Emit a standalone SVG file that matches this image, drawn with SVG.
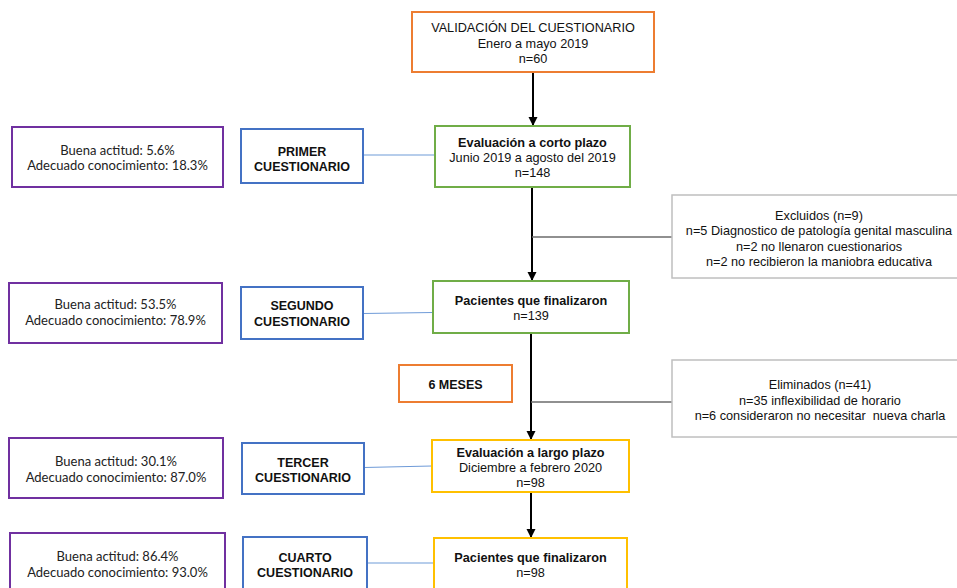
<svg xmlns="http://www.w3.org/2000/svg" width="957" height="588" viewBox="0 0 957 588">
<defs>
<marker id="ah" markerWidth="10" markerHeight="10" refX="9" refY="5" orient="auto" markerUnits="userSpaceOnUse">
<path d="M0,0.5 L9,5 L0,9.5 Z" fill="#000"/>
</marker>
<style>
.t{font-family:"Liberation Sans",Arial,sans-serif;font-size:12.7px;fill:#111;text-anchor:middle}
.b{font-weight:bold}
.c{font-family:Lato,"Open Sans",sans-serif;font-size:13px;fill:#222;text-anchor:middle}
.bl{font-family:"Liberation Sans",Arial,sans-serif;font-size:12.5px;font-weight:bold;fill:#111;text-anchor:middle}
.or{fill:#fff;stroke:#ED7D31;stroke-width:2}
.gr{fill:#fff;stroke:#70AD47;stroke-width:2}
.ye{fill:#fff;stroke:#FFC000;stroke-width:2}
.pu{fill:#fff;stroke:#7030A0;stroke-width:2}
.bu{fill:#fff;stroke:#4472C4;stroke-width:2}
.gy{fill:#fff;stroke:#BFBFBF;stroke-width:1.5}
.arr{stroke:#000;stroke-width:2;fill:none;marker-end:url(#ah)}
.gl{stroke:#6b6b6b;stroke-width:1.5;fill:none}
.bln{stroke:#6f9bd8;stroke-width:1.2;fill:none}
</style>
</defs>
<rect width="957" height="588" fill="#fff"/>
<g id="connectors">
<line class="arr" x1="533" y1="72" x2="533" y2="126"/>
<line class="arr" x1="532" y1="187" x2="532" y2="281"/>
<line class="arr" x1="531" y1="333" x2="531" y2="440"/>
<line class="arr" x1="531" y1="492" x2="531" y2="538"/>
<line class="gl" x1="532" y1="237" x2="672" y2="237"/>
<line class="gl" x1="531" y1="402" x2="672" y2="402"/>
<line class="bln" x1="363" y1="155" x2="435" y2="155"/>
<line class="bln" x1="363" y1="313.5" x2="433" y2="312.5"/>
<line class="bln" x1="364" y1="467.5" x2="432" y2="466"/>
<line class="bln" x1="367" y1="563" x2="434" y2="563"/>
</g>
<g id="validacion">
<rect class="or" x="412" y="12" width="242" height="60"/>
<text class="t" x="533" y="31.5">VALIDACIÓN DEL CUESTIONARIO</text>
<text class="t" x="533" y="47.5">Enero a mayo 2019</text>
<text class="t" x="533" y="63">n=60</text>
</g>
<g id="corto-plazo">
<rect class="gr" x="435" y="126" width="195" height="61"/>
<text class="t b" x="532.5" y="146.5">Evaluación a corto plazo</text>
<text class="t" x="532.5" y="161.5">Junio 2019 a agosto del 2019</text>
<text class="t" x="532.5" y="176.5">n=148</text>
</g>
<g id="finalizaron1">
<rect class="gr" x="433" y="281" width="196" height="52"/>
<text class="t b" x="531" y="304.5">Pacientes que finalizaron</text>
<text class="t" x="531" y="319.5">n=139</text>
</g>
<g id="largo-plazo">
<rect class="ye" x="432" y="440" width="197" height="52"/>
<text class="t b" x="530.5" y="456.5">Evaluación a largo plazo</text>
<text class="t" x="530.5" y="471.5">Diciembre a febrero 2020</text>
<text class="t" x="530.5" y="486.5">n=98</text>
</g>
<g id="finalizaron2">
<rect class="ye" x="434" y="538" width="193" height="62"/>
<text class="t b" x="530.5" y="561.5">Pacientes que finalizaron</text>
<text class="t" x="530.5" y="576.5">n=98</text>
</g>
<g id="excluidos">
<rect class="gy" x="672" y="195" width="290" height="83"/>
<text class="t" x="819" y="219.5">Excluidos (n=9)</text>
<text class="t" x="819" y="234.5">n=5 Diagnostico de patología genital masculina</text>
<text class="t" x="819" y="250.5">n=2 no llenaron cuestionarios</text>
<text class="t" x="819" y="265.5">n=2 no recibieron la maniobra educativa</text>
</g>
<g id="eliminados">
<rect class="gy" x="672" y="360" width="290" height="77"/>
<text class="t" x="820" y="388.5">Eliminados (n=41)</text>
<text class="t" x="820" y="404.5">n=35 inflexibilidad de horario</text>
<text class="t" x="820" y="419.5" xml:space="preserve">n=6 consideraron no necesitar  nueva charla</text>
</g>
<g id="seis-meses">
<rect class="or" x="399" y="365" width="113" height="37"/>
<text class="bl" x="455.5" y="388.5">6 MESES</text>
</g>
<g id="primer">
<rect class="bu" x="241" y="129" width="122" height="54"/>
<text class="bl" x="302" y="155.5">PRIMER</text>
<text class="bl" x="302" y="170.5">CUESTIONARIO</text>
</g>
<g id="segundo">
<rect class="bu" x="241" y="287" width="122" height="52"/>
<text class="bl" x="302" y="309.5">SEGUNDO</text>
<text class="bl" x="302" y="325.5">CUESTIONARIO</text>
</g>
<g id="tercer">
<rect class="bu" x="242" y="443" width="122" height="51"/>
<text class="bl" x="303" y="466.5">TERCER</text>
<text class="bl" x="303" y="481.5">CUESTIONARIO</text>
</g>
<g id="cuarto">
<rect class="bu" x="243" y="537" width="124" height="63"/>
<text class="bl" x="305" y="561.5">CUARTO</text>
<text class="bl" x="305" y="576.5">CUESTIONARIO</text>
</g>
<g id="resultado1">
<rect class="pu" x="12" y="127" width="211" height="60"/>
<text class="c" x="117.5" y="154.5">Buena actitud: 5.6%</text>
<text class="c" x="117.5" y="169.5">Adecuado conocimiento: 18.3%</text>
</g>
<g id="resultado2">
<rect class="pu" x="9" y="283" width="213" height="60"/>
<text class="c" x="115.5" y="308.5">Buena actitud: 53.5%</text>
<text class="c" x="115.5" y="324.5">Adecuado conocimiento: 78.9%</text>
</g>
<g id="resultado3">
<rect class="pu" x="9" y="438" width="214" height="60"/>
<text class="c" x="116" y="465.5">Buena actitud: 30.1%</text>
<text class="c" x="116" y="481.5">Adecuado conocimiento: 87.0%</text>
</g>
<g id="resultado4">
<rect class="pu" x="10" y="533" width="215" height="67"/>
<text class="c" x="117.5" y="560.5">Buena actitud: 86.4%</text>
<text class="c" x="117.5" y="576.5">Adecuado conocimiento: 93.0%</text>
</g>
</svg>
